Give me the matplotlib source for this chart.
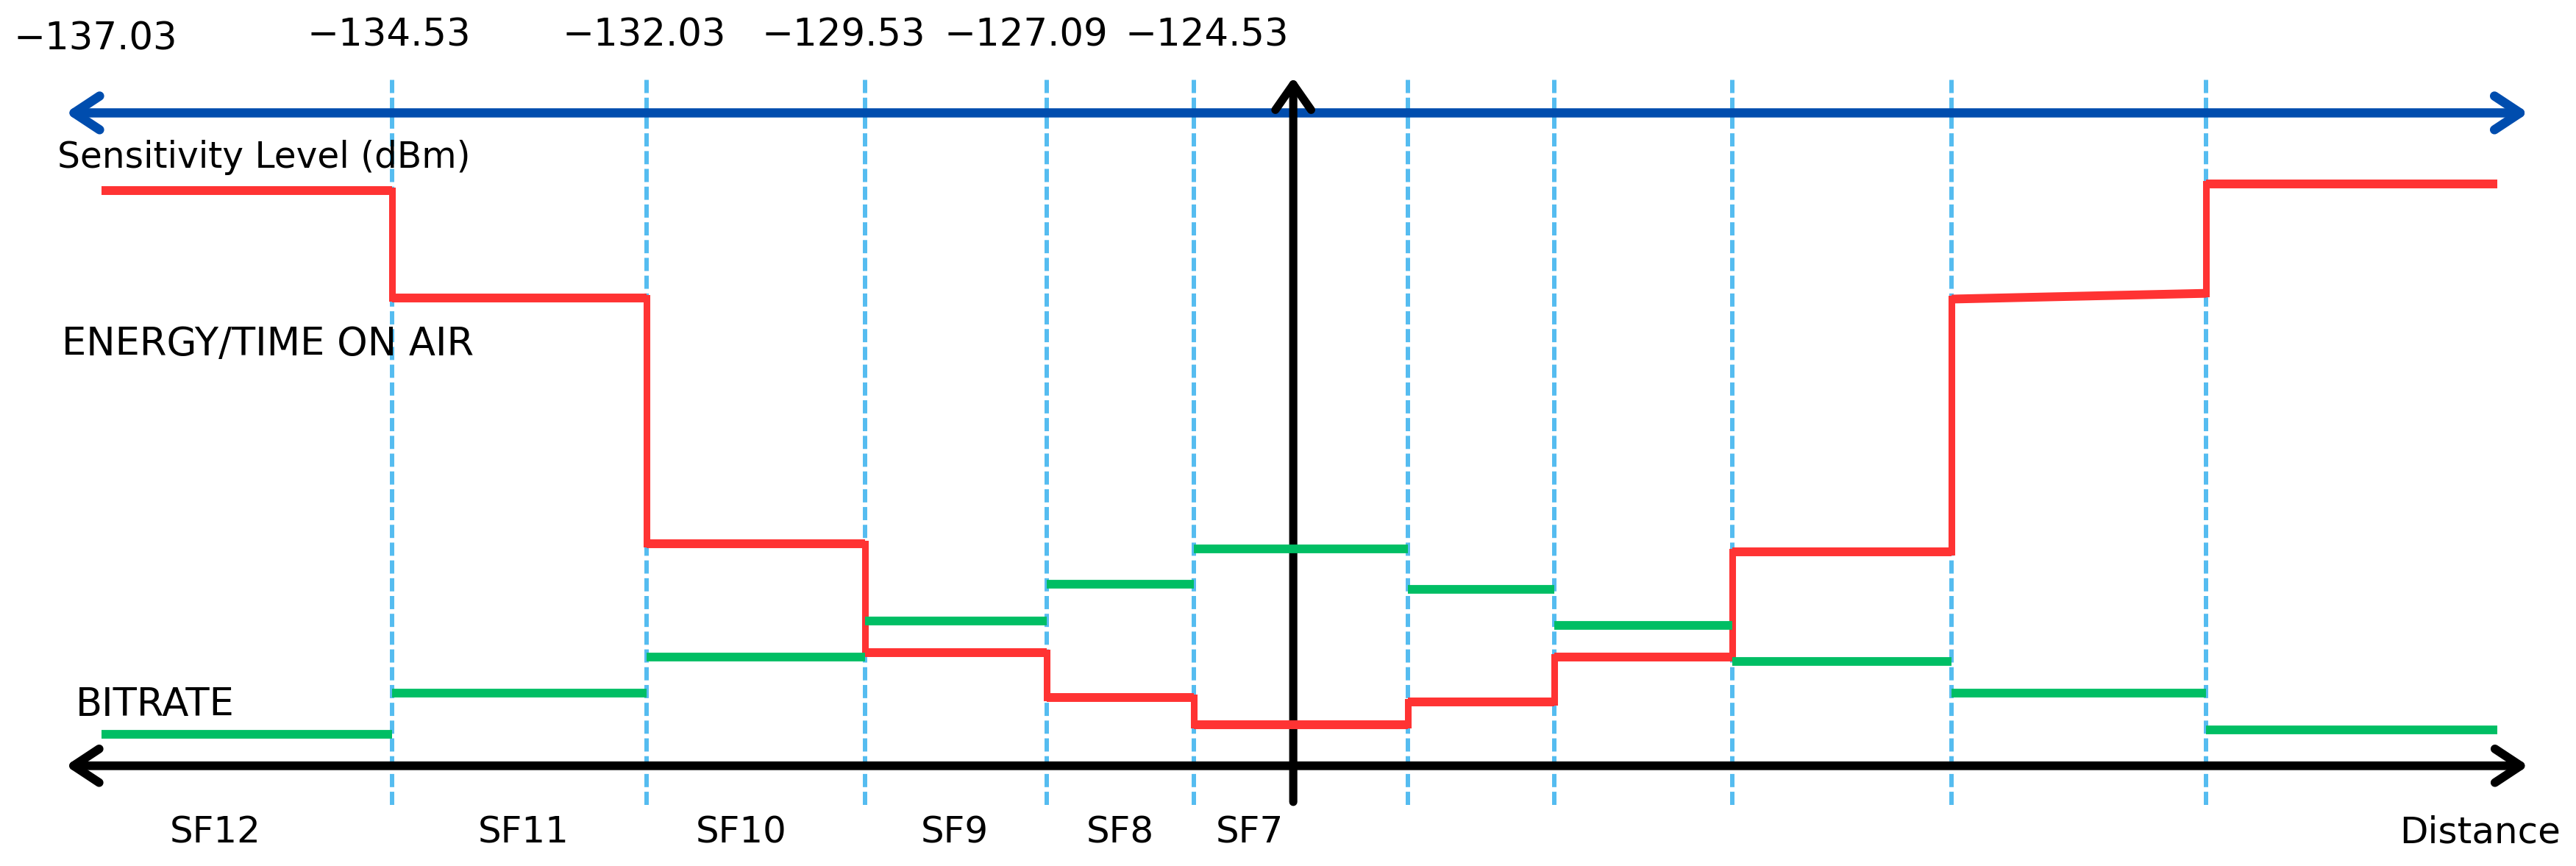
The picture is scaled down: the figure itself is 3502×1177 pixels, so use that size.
import numpy as np
import matplotlib
matplotlib.use("Agg")
import matplotlib.pyplot as plt

# region boundaries along the distance axis (arbitrary units)
edges = [0.0, 17.65, 33.15, 46.45, 57.5, 66.45, 79.5, 88.4, 99.25, 112.6, 128.1, 145.8]
# energy / time on air level per region (left and right end, one is slightly sloped)
energy_left = [35.0, 28.45, 13.5, 6.9, 4.15, 2.5, 3.9, 6.6, 13.0, 28.4, 35.4]
energy_right = [35.0, 28.45, 13.5, 6.9, 4.15, 2.5, 3.9, 6.6, 13.0, 28.75, 35.4]
# bitrate level per region
bitrate = [1.92, 4.4, 6.6, 8.8, 11.03, 13.2, 10.75, 8.54, 6.33, 4.4, 2.2]
sensitivity = ["\u2212137.03", "\u2212134.53", "\u2212132.03", "\u2212129.53", "\u2212127.09", "\u2212124.53"]
sf_names = ["SF12", "SF11", "SF10", "SF9", "SF8", "SF7"]

# layout
sens_dx = [-0.4, -0.15, -0.15, -1.3, -1.25, 0.8]
sens_y = [43.6, 43.82, 43.82, 43.82, 43.82, 43.82]
sf_dx = [-1.93, 0.26, -0.9, -0.08, 0.02, -3.1]

RED = "#FF3333"
GREEN = "#00BE64"
BLUE = "#004DAE"
DASH = "#55BCF0"

fig = plt.figure(figsize=(35.02, 11.77), dpi=100)
ax = fig.add_axes([0, 0, 1, 1])
ax.set_xlim(-6.2, 150.6)
ax.set_ylim(-6.1, 46.6)
ax.axis("off")

# dashed region boundaries
ax.vlines(edges[1:-1], -2.38, 41.99, colors=DASH, lw=4.3,
          linestyles=(0, (3.0, 1.05)), zorder=1)

# sensitivity axis (blue) and distance axis (black)
ax.annotate("", xy=(147.7, 39.73), xytext=(-2.2, 39.73),
            arrowprops=dict(arrowstyle="<->, head_length=0.5, head_width=0.33",
                            color=BLUE, lw=9, mutation_scale=50,
                            shrinkA=0, shrinkB=0), zorder=3)
ax.annotate("", xy=(147.7, 0), xytext=(-2.2, 0),
            arrowprops=dict(arrowstyle="<->, head_length=0.5, head_width=0.33",
                            color="black", lw=8.5, mutation_scale=50,
                            shrinkA=0, shrinkB=0), zorder=3)
ax.annotate("", xy=(72.52, 41.9), xytext=(72.52, -2.2),
            arrowprops=dict(arrowstyle="->, head_length=0.5, head_width=0.35",
                            color="black", lw=8, mutation_scale=50,
                            shrinkA=0, shrinkB=0), zorder=3)

# energy / time on air step line
for i in range(len(energy_left)):
    ax.plot([edges[i], edges[i + 1]], [energy_left[i], energy_right[i]],
            color=RED, lw=8.6, solid_capstyle="butt", zorder=4)
for i in range(len(energy_left) - 1):
    ax.plot([edges[i + 1], edges[i + 1]], [energy_right[i], energy_left[i + 1]],
            color=RED, lw=6.5, solid_capstyle="projecting", zorder=4)

# bitrate levels
for i in range(len(bitrate)):
    ax.plot([edges[i], edges[i + 1]], [bitrate[i], bitrate[i]],
            color=GREEN, lw=8.5, solid_capstyle="butt", zorder=4)

# texts
for i, lab in enumerate(sensitivity):
    ax.text(edges[i] + sens_dx[i], sens_y[i], lab, ha="center", va="baseline",
            fontsize=37, color="black")
for i, lab in enumerate(sf_names):
    mid = (edges[i] + edges[i + 1]) / 2
    ax.text(mid + sf_dx[i], -4.71, lab, ha="center", va="baseline", fontsize=36)
ax.text(149.66, -4.71, "Distance", ha="right", va="baseline", fontsize=36)
ax.text(-2.7, 36.4, "Sensitivity Level (dBm)", ha="left", va="baseline", fontsize=35)
ax.text(-2.44, 24.97, "ENERGY/TIME ON AIR", ha="left", va="baseline", fontsize=38)
ax.text(-1.6, 3.03, "BITRATE", ha="left", va="baseline", fontsize=38)

fig.savefig("out.png", dpi=100)
